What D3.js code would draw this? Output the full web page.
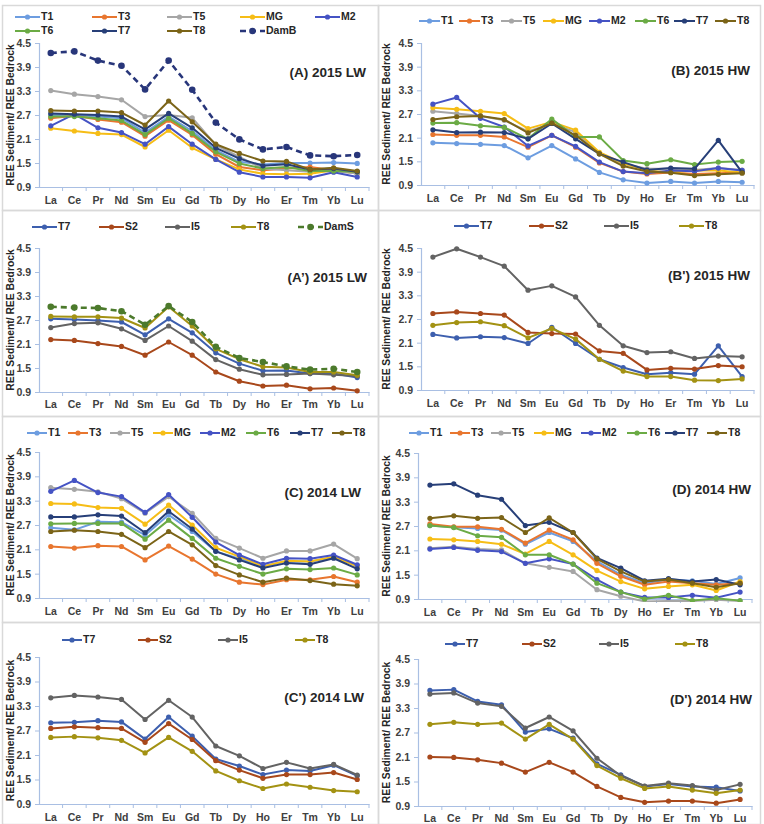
<!DOCTYPE html>
<html><head><meta charset="utf-8">
<script src="https://cdn.jsdelivr.net/npm/d3@7"></script>
<style>
body{margin:0;background:#fff;}
svg{display:block;font-family:"Liberation Sans",Arial,sans-serif;}
</style></head>
<body><svg id="c" width="764" height="824"></svg>
<script>
const categories = ["La","Ce","Pr","Nd","Sm","Eu","Gd","Tb","Dy","Ho","Er","Tm","Yb","Lu"];
const yTicks = [0.9,1.5,2.1,2.7,3.3,3.9,4.5];

// (A) 2015 LW
const A_T1 = [2.70,2.70,2.66,2.62,2.26,2.66,2.30,1.82,1.53,1.46,1.50,1.50,1.51,1.49];
const A_T3 = [2.62,2.68,2.59,2.52,2.17,2.57,2.20,1.72,1.40,1.32,1.36,1.40,1.32,1.24];
const A_T5 = [3.31,3.22,3.16,3.08,2.66,2.70,2.63,1.95,1.65,1.36,1.32,1.28,1.30,1.24];
const A_MG = [2.37,2.30,2.24,2.21,1.90,2.32,1.88,1.59,1.34,1.23,1.22,1.23,1.32,1.28];
const A_M2 = [2.43,2.72,2.38,2.26,1.97,2.41,1.97,1.59,1.27,1.15,1.15,1.13,1.27,1.15];
const A_T6 = [2.66,2.66,2.62,2.56,2.21,2.62,2.24,1.78,1.49,1.36,1.40,1.30,1.30,1.28];
const A_T7 = [2.74,2.72,2.70,2.66,2.34,2.74,2.38,1.88,1.61,1.43,1.47,1.34,1.36,1.28];
const A_T8 = [2.81,2.80,2.80,2.76,2.45,3.05,2.53,1.97,1.74,1.55,1.54,1.34,1.38,1.30];
const A_DamB = [4.25,4.29,4.06,3.93,3.34,4.06,3.33,2.51,2.09,1.84,1.90,1.69,1.67,1.70];

// (B) 2015 HW
const B_T1 = [1.97,1.95,1.93,1.90,1.59,1.90,1.56,1.22,1.03,0.95,0.99,0.95,0.99,0.97];
const B_T3 = [2.18,2.16,2.16,2.12,1.86,2.16,1.86,1.46,1.24,1.18,1.22,1.18,1.20,1.22];
const B_T5 = [2.77,2.71,2.65,2.54,2.26,2.46,2.24,1.69,1.44,1.31,1.31,1.28,1.33,1.28];
const B_MG = [2.86,2.82,2.77,2.71,2.33,2.50,2.29,1.73,1.45,1.27,1.22,1.27,1.27,1.22];
const B_M2 = [2.95,3.12,2.59,2.37,1.89,2.16,1.88,1.48,1.24,1.20,1.27,1.25,1.33,1.27];
const B_T6 = [2.47,2.48,2.40,2.36,2.07,2.57,2.12,2.12,1.52,1.44,1.54,1.42,1.48,1.50];
const B_T7 = [2.30,2.23,2.24,2.23,2.07,2.46,2.07,1.69,1.48,1.28,1.33,1.31,2.03,1.22];
const B_T8 = [2.56,2.63,2.65,2.56,2.22,2.47,2.16,1.69,1.38,1.24,1.21,1.14,1.17,1.20];

// (A') 2015 LW
const Ap_T7 = [2.73,2.71,2.69,2.65,2.33,2.73,2.38,1.88,1.61,1.43,1.44,1.36,1.36,1.26];
const Ap_S2 = [2.21,2.19,2.11,2.04,1.82,2.15,1.82,1.40,1.17,1.05,1.07,0.98,1.00,0.93];
const Ap_I5 = [2.51,2.61,2.63,2.48,2.19,2.55,2.17,1.71,1.47,1.33,1.34,1.36,1.33,1.30];
const Ap_T8 = [2.79,2.78,2.78,2.75,2.50,3.03,2.55,1.98,1.72,1.53,1.51,1.40,1.40,1.32];
const Ap_DamS = [3.03,3.01,3.00,2.92,2.58,3.05,2.65,2.03,1.75,1.65,1.54,1.46,1.48,1.40];

// (B') 2015 HW
const Bp_T7 = [2.31,2.22,2.25,2.23,2.08,2.49,2.08,1.68,1.47,1.30,1.34,1.30,2.02,1.24];
const Bp_S2 = [2.84,2.88,2.84,2.80,2.36,2.33,2.32,1.89,1.83,1.41,1.45,1.43,1.52,1.49];
const Bp_I5 = [4.27,4.48,4.27,4.04,3.43,3.54,3.26,2.54,2.02,1.85,1.87,1.70,1.76,1.74];
const Bp_T8 = [2.54,2.61,2.63,2.53,2.22,2.46,2.19,1.68,1.38,1.24,1.24,1.15,1.14,1.18];

// (C) 2014 LW
const C_T1 = [2.63,2.58,2.78,2.77,2.45,2.95,2.54,2.05,1.87,1.68,1.80,1.80,1.90,1.70];
const C_T3 = [2.17,2.13,2.19,2.17,1.84,2.18,1.86,1.49,1.29,1.23,1.35,1.35,1.43,1.29];
const C_T5 = [3.62,3.58,3.52,3.35,2.99,3.40,2.99,2.37,2.13,1.88,2.06,2.06,2.23,1.87];
const C_MG = [3.23,3.22,3.13,3.11,2.72,3.19,2.70,2.14,1.92,1.68,1.82,1.80,1.92,1.68];
const C_M2 = [3.53,3.80,3.50,3.40,3.01,3.45,2.89,2.28,1.96,1.73,1.88,1.87,1.96,1.72];
const C_T6 = [2.73,2.74,2.74,2.74,2.35,2.82,2.37,1.88,1.68,1.49,1.62,1.60,1.64,1.47];
const C_T7 = [2.90,2.90,2.95,2.92,2.51,3.04,2.60,2.05,1.84,1.64,1.76,1.73,1.88,1.62];
const C_T8 = [2.54,2.57,2.54,2.47,2.14,2.54,2.21,1.70,1.47,1.29,1.39,1.33,1.24,1.20];

// (D) 2014 HW
const D_T1 = [2.71,2.67,2.64,2.60,2.25,2.54,2.32,1.83,1.50,1.29,1.38,1.35,1.27,1.42];
const D_T3 = [2.75,2.68,2.68,2.62,2.28,2.60,2.36,1.78,1.46,1.25,1.33,1.29,1.25,1.29];
const D_T5 = [2.15,2.19,2.13,2.11,1.78,1.68,1.58,1.13,0.97,0.84,0.85,0.85,0.88,0.85];
const D_MG = [2.38,2.36,2.32,2.25,2.01,2.32,1.99,1.60,1.33,1.15,1.21,1.25,1.11,1.33];
const D_M2 = [2.13,2.17,2.10,2.07,1.78,1.89,1.76,1.38,1.07,0.94,0.94,0.99,0.93,1.07];
const D_T6 = [2.71,2.66,2.46,2.42,1.99,1.99,1.76,1.29,1.07,0.90,0.99,0.86,0.92,0.86];
const D_T7 = [3.71,3.74,3.46,3.36,2.71,2.79,2.54,1.91,1.66,1.35,1.40,1.33,1.38,1.25];
const D_T8 = [2.89,2.95,2.89,2.91,2.54,2.90,2.54,1.89,1.58,1.33,1.38,1.29,1.19,1.29];

// (C') 2014 LW
const Cp_T7 = [2.89,2.90,2.94,2.91,2.49,3.03,2.56,2.00,1.83,1.62,1.73,1.71,1.85,1.59];
const Cp_S2 = [2.75,2.79,2.77,2.75,2.41,2.87,2.48,1.96,1.73,1.53,1.62,1.62,1.67,1.50];
const Cp_I5 = [3.50,3.56,3.52,3.46,2.97,3.44,3.03,2.32,2.08,1.77,1.92,1.77,1.87,1.61];
const Cp_T8 = [2.53,2.55,2.52,2.46,2.15,2.53,2.19,1.71,1.47,1.28,1.39,1.31,1.23,1.20];

// (D') 2014 HW
const Dp_T7 = [3.73,3.75,3.46,3.38,2.71,2.79,2.56,1.93,1.66,1.38,1.44,1.38,1.36,1.27];
const Dp_S2 = [2.10,2.09,2.03,1.95,1.73,1.97,1.73,1.38,1.11,0.99,1.02,1.02,0.97,1.06];
const Dp_I5 = [3.64,3.67,3.42,3.34,2.81,3.08,2.74,2.07,1.64,1.39,1.46,1.40,1.29,1.43];
const Dp_T8 = [2.90,2.95,2.90,2.93,2.54,2.90,2.54,1.89,1.58,1.33,1.38,1.29,1.21,1.29];

const col = {T1:"#6d9de0",T3:"#e8762f",T5:"#a6a6a6",MG:"#f6bd16",M2:"#4553c4",T6:"#6bab45",T7:"#273f78",T8:"#7b6418",DamB:"#28367a"};
const colP = {T7:"#3d5fae",S2:"#a8481b",I5:"#636363",T8:"#a39213",DamS:"#4c7a2c"};

function S8(d){return [
  {n:"T1",d:d[0],c:col.T1},{n:"T3",d:d[1],c:col.T3},{n:"T5",d:d[2],c:col.T5},{n:"MG",d:d[3],c:col.MG},
  {n:"M2",d:d[4],c:col.M2},{n:"T6",d:d[5],c:col.T6},{n:"T7",d:d[6],c:col.T7},{n:"T8",d:d[7],c:col.T8}];}
function S4(d){return [{n:"T7",d:d[0],c:colP.T7},{n:"S2",d:d[1],c:colP.S2},{n:"I5",d:d[2],c:colP.I5},{n:"T8",d:d[3],c:colP.T8}];}

const panels = [
 {box:[2,5,376,205], p:{l:39,r:369,t:43,b:187}, xl:201, title:"(A) 2015 LW", tx:366, ty:77,
  series:S8([A_T1,A_T3,A_T5,A_MG,A_M2,A_T6,A_T7,A_T8]).concat([{n:"DamB",d:A_DamB,c:col.DamB,dash:true}]),
  leg:{len:25, pos:[[15,17],[92,17],[167,17],[240,17],[315,17],[15,31],[92,31],[167,31],[240,31]], order:["T1","T3","T5","MG","M2","T6","T7","T8","DamB"]}},
 {box:[378,5,382,205], p:{l:421,r:754,t:43,b:185}, xl:199, title:"(B) 2015 HW", tx:750, ty:75,
  series:S8([B_T1,B_T3,B_T5,B_MG,B_M2,B_T6,B_T7,B_T8]),
  leg:{len:21, pos:[[419,21],[459,21],[501,21],[543,21],[589,21],[635,21],[674,21],[715,21]], order:["T1","T3","T5","MG","M2","T6","T7","T8"]}},
 {box:[2,210,376,206], p:{l:39,r:369,t:248,b:392}, xl:405, title:"(A\u2019) 2015 LW", tx:367, ty:282,
  series:S4([Ap_T7,Ap_S2,Ap_I5,Ap_T8]).concat([{n:"DamS",d:Ap_DamS,c:colP.DamS,dash:true}]),
  leg:{len:25, pos:[[32,227],[99,227],[165,227],[231,227],[298,227]], order:["T7","S2","I5","T8","DamS"]}},
 {box:[378,210,382,206], p:{l:421,r:754,t:248,b:390}, xl:404, title:"(B') 2015 HW", tx:750, ty:280,
  series:S4([Bp_T7,Bp_S2,Bp_I5,Bp_T8]),
  leg:{len:25, pos:[[454,226],[529,226],[604,226],[679,226]], order:["T7","S2","I5","T8"]}},
 {box:[2,416,376,206], p:{l:39,r:369,t:452,b:598}, xl:612, title:"(C) 2014  LW", tx:361, ty:497,
  series:S8([C_T1,C_T3,C_T5,C_MG,C_M2,C_T6,C_T7,C_T8]),
  leg:{len:20, pos:[[27,433],[68,433],[110,433],[153,433],[200,433],[246,433],[290,433],[332,433]], order:["T1","T3","T5","MG","M2","T6","T7","T8"]}},
 {box:[378,416,382,206], p:{l:418,r:752,t:453,b:599}, xl:613, title:"(D) 2014  HW", tx:751, ty:494,
  series:S8([D_T1,D_T3,D_T5,D_MG,D_M2,D_T6,D_T7,D_T8]),
  leg:{len:20, pos:[[409,433],[450,433],[491,433],[534,433],[581,433],[627,433],[665,433],[707,433]], order:["T1","T3","T5","MG","M2","T6","T7","T8"]}},
 {box:[2,622,376,202], p:{l:39,r:369,t:657,b:804}, xl:818, title:"(C') 2014  LW", tx:364, ty:702,
  series:S4([Cp_T7,Cp_S2,Cp_I5,Cp_T8]),
  leg:{len:20, pos:[[62,640],[138,640],[218,640],[295,640]], order:["T7","S2","I5","T8"]}},
 {box:[378,622,382,202], p:{l:418,r:752,t:659,b:806}, xl:819, title:"(D') 2014  HW", tx:752, ty:704,
  series:S4([Dp_T7,Dp_S2,Dp_I5,Dp_T8]),
  leg:{len:20, pos:[[445,644],[522,644],[599,644],[675,644]], order:["T7","S2","I5","T8"]}}
];

const svg = d3.select("#c");
svg.append("rect").attr("width",764).attr("height",824).attr("fill","#fff");
const axisCol = "#a9bfe3";

panels.forEach((P,i)=>{
  const g = svg.append("g");
  g.append("rect").attr("x",P.box[0]+0.5).attr("y",P.box[1]+0.5).attr("width",P.box[2]).attr("height",P.box[3])
   .attr("fill","none").attr("stroke","#d9d9d9").attr("stroke-width",1.5);
  const x = d3.scaleBand().domain(categories).range([P.p.l,P.p.r]);
  const y = d3.scaleLinear().domain([0.9,4.5]).range([P.p.b,P.p.t]);

  // y axis
  const ya = g.append("g").attr("transform",`translate(${P.p.l},0)`)
    .call(d3.axisLeft(y).tickValues(yTicks).tickFormat(d3.format(".1f")).tickSize(4).tickPadding(4));
  ya.select(".domain").attr("stroke",axisCol).attr("stroke-width",1.2);
  ya.selectAll(".tick line").attr("stroke",axisCol);
  ya.selectAll(".tick text").attr("fill","#404040").attr("font-size","10.5px").attr("font-weight","bold");
  // x axis
  const xa = g.append("g").attr("transform",`translate(0,${P.p.b})`)
    .call(d3.axisBottom(x).tickSize(0).tickSizeOuter(0).tickPadding(P.xl-P.p.b));
  xa.select(".domain").attr("stroke",axisCol).attr("stroke-width",1.2);
  xa.selectAll(".tick text").attr("fill","#404040").attr("font-size","10.5px").attr("font-weight","bold").attr("dy",null).attr("dominant-baseline","middle");
  // tick marks between categories
  g.append("g").selectAll("line").data(categories.slice(1).concat(["__end"])).join("line")
    .attr("x1",d=> d==="__end" ? P.p.r : x(d)).attr("x2",d=> d==="__end" ? P.p.r : x(d))
    .attr("y1",P.p.b).attr("y2",P.p.b+4).attr("stroke",axisCol);

  // y title
  g.append("text").attr("transform",`translate(${P.box[0]+9},${(P.p.t+P.p.b)/2}) rotate(-90)`)
   .attr("text-anchor","middle").attr("dominant-baseline","middle").attr("font-size","10.3px").attr("font-weight","bold").attr("fill","#262626")
   .text("REE Sediment/ REE Bedrock");

  // clip
  const cid = "clip"+i;
  svg.append("clipPath").attr("id",cid).append("rect").attr("x",P.p.l-4).attr("y",P.p.t-6).attr("width",P.p.r-P.p.l+8).attr("height",P.p.b-P.p.t+9);
  const pg = g.append("g").attr("clip-path",`url(#${cid})`);
  const line = d3.line().x((d,j)=>x(categories[j])+x.bandwidth()/2).y(d=>y(d));
  P.series.forEach(s=>{
    pg.append("path").datum(s.d).attr("d",line).attr("fill","none").attr("stroke",s.c)
      .attr("stroke-width",s.dash?2.6:2).attr("stroke-dasharray",s.dash?"6,4":null).attr("stroke-linejoin","round");
    pg.append("g").selectAll("circle").data(s.d).join("circle")
      .attr("cx",(d,j)=>x(categories[j])+x.bandwidth()/2).attr("cy",d=>y(d)).attr("r",s.dash?3.3:2.6).attr("fill",s.c);
  });

  // title
  g.append("text").attr("x",P.tx).attr("y",P.ty).attr("text-anchor","end").attr("font-size","13.5px").attr("font-weight","bold").attr("fill","#262626").text(P.title);

  // legend
  P.leg.order.forEach((name,k)=>{
    const s = P.series.find(q=>q.n===name);
    const [lx,ly] = P.leg.pos[k];
    const L = P.leg.len;
    g.append("line").attr("x1",lx).attr("x2",lx+L).attr("y1",ly).attr("y2",ly).attr("stroke",s.c)
      .attr("stroke-width",s.dash?2.6:2).attr("stroke-dasharray",s.dash?"6,4":null);
    g.append("circle").attr("cx",lx+L/2).attr("cy",ly).attr("r",s.dash?3.3:2.6).attr("fill",s.c);
    g.append("text").attr("x",lx+L+1).attr("y",ly).attr("dominant-baseline","middle").attr("font-size","10.5px").attr("font-weight","bold").attr("fill","#262626").text(name);
  });
});
</script></body></html>
